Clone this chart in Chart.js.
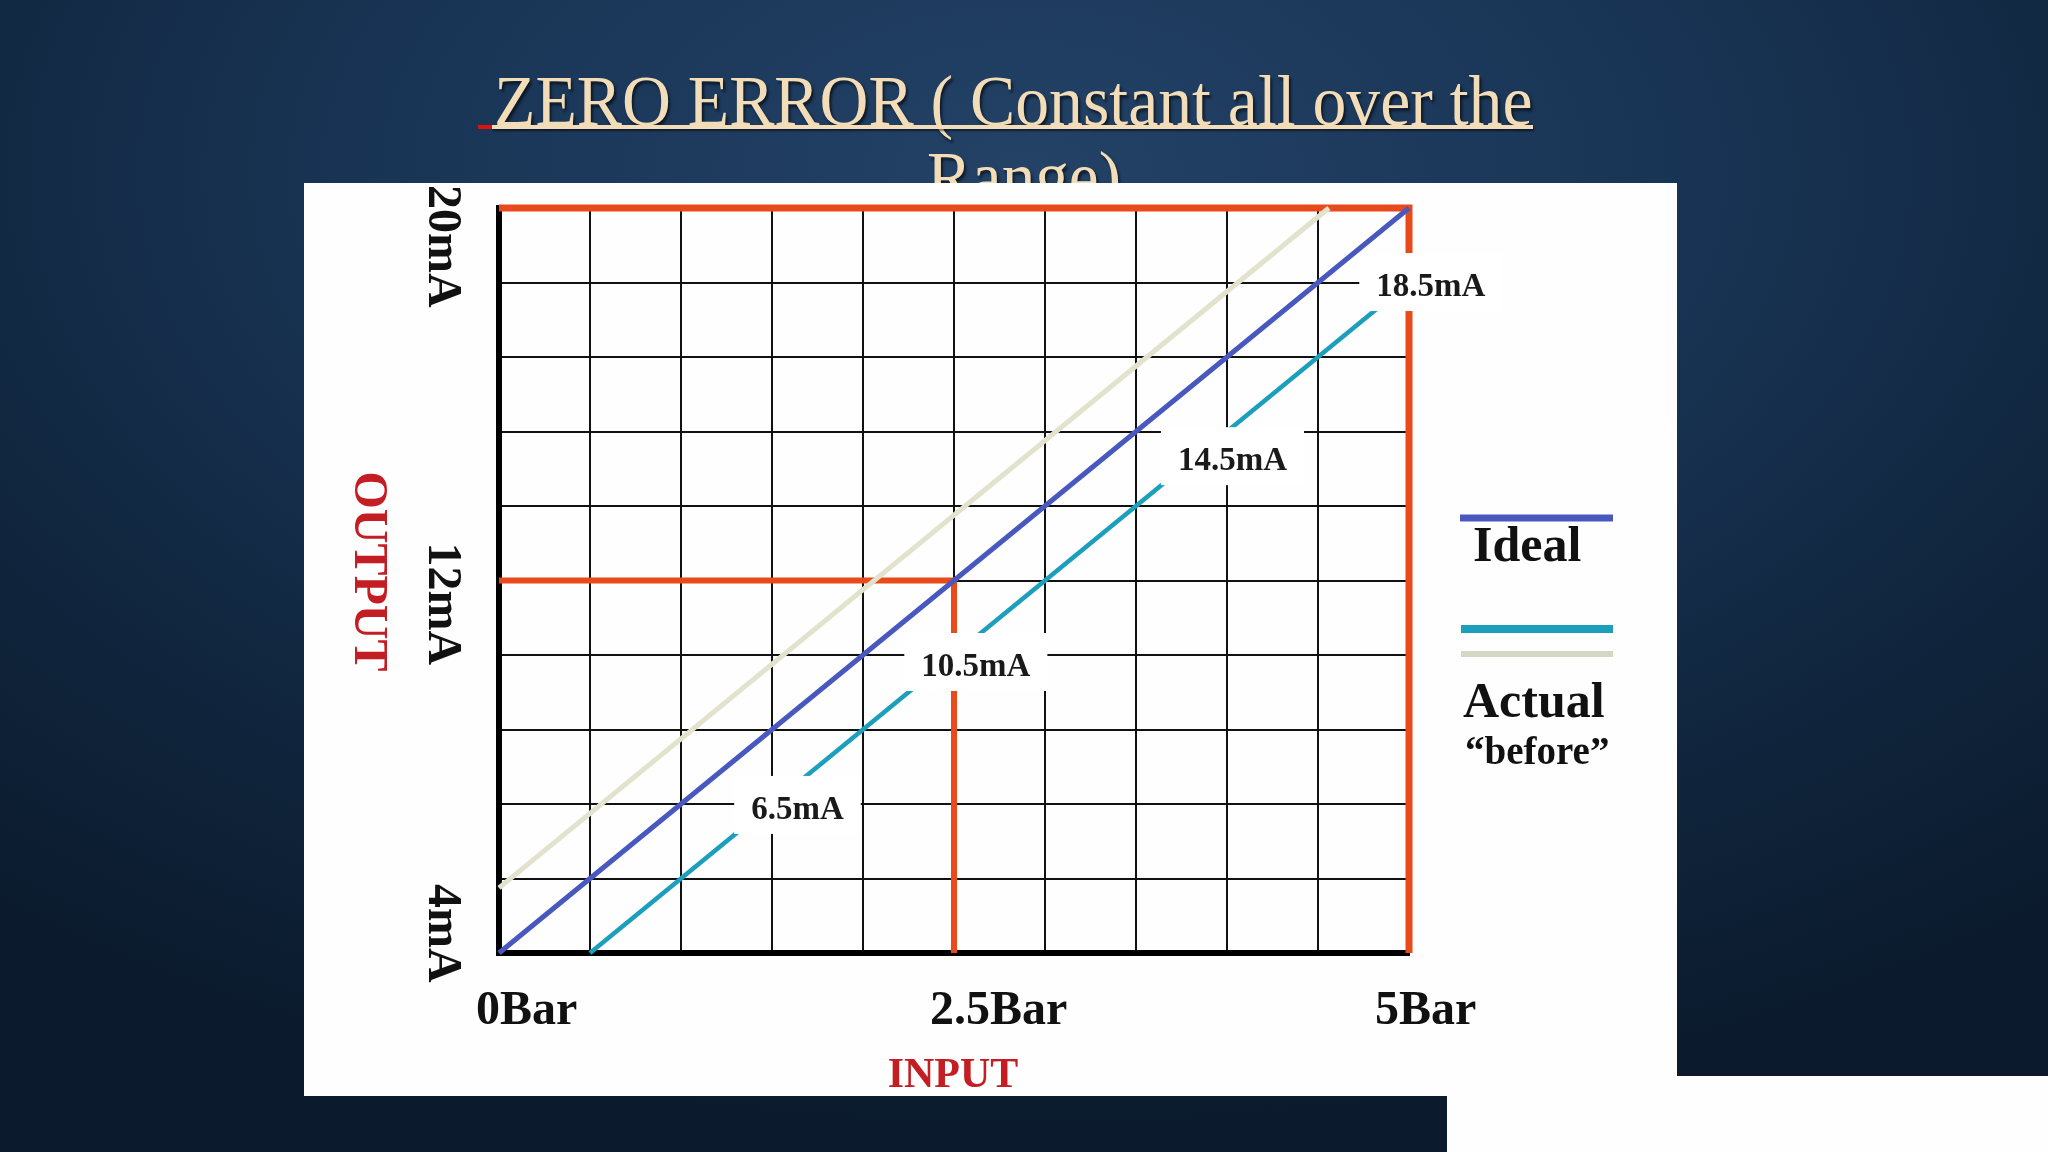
<!DOCTYPE html>
<html>
<head>
<meta charset="utf-8">
<script src="https://cdn.jsdelivr.net/npm/chart.js@4.4.1/dist/chart.umd.min.js"></script>
<style>
html,body{margin:0;padding:0;width:2048px;height:1152px;overflow:hidden;}
body{position:relative;background:radial-gradient(ellipse 80% 85% at 50% 15%, #234266 0%, #193556 38%, #10253d 72%, #0b1a2c 100%);}
.title{position:absolute;white-space:nowrap;font-family:'Liberation Serif',serif;font-size:71px;line-height:71px;color:#f3ddb9;text-shadow:2px 3px 3px rgba(0,0,0,0.6);transform-origin:0 0;}
#uline{position:absolute;left:492px;top:125px;width:1041px;height:4px;background:#f3ddb9;box-shadow:1px 2px 2px rgba(0,0,0,0.5);}
#ured{position:absolute;left:478px;top:125px;width:14px;height:4px;background:#e01010;}
#wrap{position:absolute;left:0;top:0;width:2048px;height:1152px;}
</style>
</head>
<body>
<div class="title" id="t1">ZERO ERROR ( Constant all over the</div>
<div class="title" id="t2">Range)</div>
<div id="uline"></div><div id="ured"></div>
<div id="wrap"><canvas id="c" width="2048" height="1152"></canvas></div>
<script>
// ---------- data ----------
const xMin = 0, xMax = 5, xGridStep = 0.5;          // Bar
const yMin = 4, yMax = 20, yGridStep = 1.6;         // mA
const idealX = [0, 5];        const idealY = [4, 20];
const actualX = [0.5, 5];     const actualY = [4, 18.4];
const beforeX = [0, 4.56];    const beforeY = [5.4, 20];
const rangeX = [0, 5, 5];     const rangeY = [20, 20, 4];
const midX = [0, 2.5, 2.5];   const midY = [12, 12, 4];
const xTickValues = [0, 2.5, 5];   const xTickLabels = ['0Bar', '2.5Bar', '5Bar'];
const yTickValues = [20, 12, 4];   const yTickLabels = ['20mA', '12mA', '4mA'];
const calloutX = [1.64, 2.62, 4.03, 5.12];
const calloutY = [7.18, 10.25, 14.67, 18.41];
const calloutText = ['6.5mA', '10.5mA', '14.5mA', '18.5mA'];
const xAxisTitle = 'INPUT', yAxisTitle = 'OUTPUT';
const legendIdeal = 'Ideal', legendActual = 'Actual', legendBefore = '\u201Cbefore\u201D';

// ---------- layout (pixels) ----------
const X_LABEL_SHIFT = [-23, -24, -34];
const Y_LABEL_SHIFT = [-23, -38, -69];

// title fitting
function fit(id, left, top, width){
  const el = document.getElementById(id);
  el.style.left = left + 'px'; el.style.top = top + 'px';
  const w = el.offsetWidth;
  el.style.transform = 'scaleX(' + (width / w) + ')';
}
fit('t1', 494, 65.5, 1039);
fit('t2', 927, 141.5, 194);

const pts = (xs, ys) => xs.map((x, i) => ({x: x, y: ys[i]}));
function gridTicks(min, max, step){
  const t = []; const n = Math.round((max - min) / step);
  for (let i = 0; i <= n; i++) t.push({value: +(min + i * step).toFixed(4)});
  return t;
}
const SERIF = '"Liberation Serif", "Times New Roman", serif';

const decor = {
  id: 'decor',
  beforeDraw(chart){
    const ctx = chart.ctx;
    ctx.save();
    ctx.fillStyle = '#fefefe';
    ctx.fillRect(304, 183, 1373, 913);
    ctx.fillRect(1447, 1076, 601, 76);
    ctx.restore();
  },
  afterDatasetsDraw(chart){
    const ctx = chart.ctx, xs = chart.scales.x, ys = chart.scales.y;
    const ds = chart.data.datasets;
    ctx.save();
    // callout boxes
    ctx.font = 'bold 33px ' + SERIF;
    ctx.textAlign = 'center'; ctx.textBaseline = 'alphabetic';
    calloutText.forEach((t, i) => {
      const cx = xs.getPixelForValue(calloutX[i]);
      const cy = ys.getPixelForValue(calloutY[i]);
      const w = ctx.measureText(t).width + 34, h = 58;
      ctx.fillStyle = '#ffffff';
      ctx.fillRect(cx - w / 2, cy - h / 2, w, h);
      ctx.fillStyle = '#1a1a1a';
      ctx.fillText(t, cx, cy + 14);
    });
    // x tick labels
    ctx.font = 'bold 48px ' + SERIF;
    ctx.textAlign = 'left'; ctx.fillStyle = '#111';
    xTickValues.forEach((v, i) => {
      ctx.fillText(xTickLabels[i], xs.getPixelForValue(v) + X_LABEL_SHIFT[i], ys.bottom + 71);
    });
    // y tick labels (rotated)
    yTickValues.forEach((v, i) => {
      ctx.save();
      ctx.translate(xs.left - 70, ys.getPixelForValue(v) + Y_LABEL_SHIFT[i]);
      ctx.rotate(Math.PI / 2);
      ctx.fillText(yTickLabels[i], 0, 0);
      ctx.restore();
    });
    // axis titles
    ctx.fillStyle = '#c41e24';
    ctx.font = 'bold 42px ' + SERIF;
    ctx.textAlign = 'center';
    ctx.fillText(xAxisTitle, (xs.left + xs.right) / 2 - 1, ys.bottom + 134);
    ctx.save();
    ctx.font = 'bold 48px ' + SERIF;
    ctx.translate(xs.left - 144, (ys.top + ys.bottom) / 2 - 9);
    ctx.rotate(Math.PI / 2);
    ctx.fillText(yAxisTitle, 0, 0);
    ctx.restore();
    // legend
    const L = xs.right + 51;
    ctx.fillStyle = ds[2].borderColor; ctx.fillRect(L, 514.5, 153, 7);
    ctx.fillStyle = ds[1].borderColor; ctx.fillRect(L + 1, 625, 152, 8);
    ctx.fillStyle = '#d6d6c4'; ctx.fillRect(L + 1, 651, 152, 6);
    ctx.fillStyle = '#111'; ctx.textAlign = 'left';
    ctx.font = 'bold 50px ' + SERIF;
    ctx.fillText(legendIdeal, L + 13, 561);
    ctx.fillText(legendActual, L + 3, 717);
    ctx.font = 'bold 39px ' + SERIF;
    ctx.fillText(legendBefore, L + 5, 764);
    ctx.restore();
  }
};

const lineDs = (label, xs_, ys_, color, width, order) => ({
  label: label, data: pts(xs_, ys_), borderColor: color, backgroundColor: color,
  borderWidth: width, showLine: true, pointRadius: 0, pointHoverRadius: 0,
  tension: 0, clip: false, order: order, borderJoinStyle: 'miter', fill: false
});

new Chart(document.getElementById('c'), {
  type: 'scatter',
  data: {
    datasets: [
      lineDs('Actual before', beforeX, beforeY, '#e2e2cd', 5, 1),
      lineDs('Actual', actualX, actualY, '#1c9ebd', 4.5, 2),
      lineDs('Ideal', idealX, idealY, '#4858be', 5, 3),
      lineDs('Full range', rangeX, rangeY, '#e84a1c', 7, 4),
      lineDs('Mid range', midX, midY, '#e84a1c', 6, 5)
    ]
  },
  options: {
    responsive: false, animation: false, devicePixelRatio: 1,
    layout: {padding: {left: 499, right: 639, top: 208, bottom: 199}},
    plugins: {legend: {display: false}, tooltip: {enabled: false}},
    events: [],
    scales: {
      x: {
        type: 'linear', min: xMin, max: xMax,
        afterBuildTicks: s => { s.ticks = gridTicks(xMin, xMax, xGridStep); },
        afterFit: s => { s.height = 0; },
        ticks: {display: false},
        grid: {color: '#111', lineWidth: 2, drawTicks: false},
        border: {color: '#000', width: 6}
      },
      y: {
        type: 'linear', min: yMin, max: yMax,
        afterBuildTicks: s => { s.ticks = gridTicks(yMin, yMax, yGridStep); },
        afterFit: s => { s.width = 0; },
        ticks: {display: false},
        grid: {color: '#111', lineWidth: 2, drawTicks: false},
        border: {color: '#000', width: 6}
      }
    }
  },
  plugins: [decor]
});
</script>
</body>
</html>
